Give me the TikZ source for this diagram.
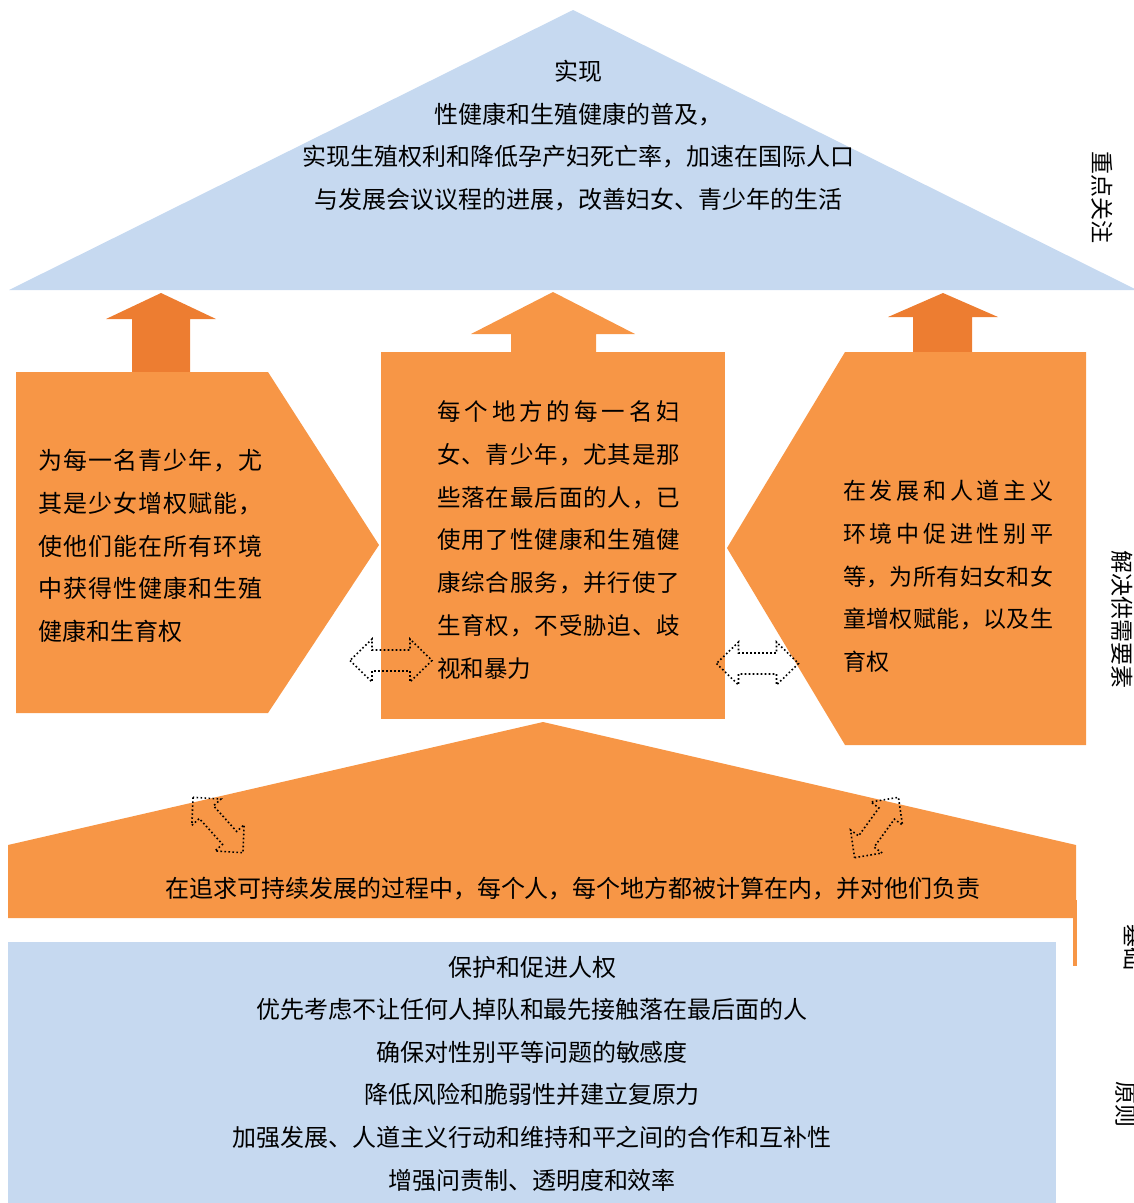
\documentclass[tikz,border=0pt]{standalone}
\usepackage{fontspec}
\setmainfont{Noto Sans CJK SC}
\definecolor{lblue}{HTML}{C6D9F0}
\definecolor{orgA}{HTML}{F79646}
\definecolor{orgB}{HTML}{ED7D31}
\def\spx#1{#1\spxnext}
\def\spxnext#1{\ifx#1\relax\else\hfil#1\expandafter\spxnext\fi}
\newcommand\jline[2]{\hbox to #1{\spx#2\relax}}
\tikzset{
  lb/.style={fill=lblue},
  oa/.style={fill=orgA},
  ob/.style={fill=orgB},
  txt/.style={inner sep=0pt, text=black, font=\fontsize{24}{42.6}\selectfont},
  vlab/.style={inner sep=0pt, rotate=-90, text=black, font=\fontsize{23}{24}\selectfont},
  dotarrow/.style={draw=black, line width=1.6pt, dash pattern=on 1.6pt off 2.4pt},
  dbl/.pic={\draw[dotarrow] (-41,0) -- (-19,21.5) -- (-19,10.5) -- (19,10.5) -- (19,21.5) -- (41,0)
     -- (19,-21.5) -- (19,-10.5) -- (-19,-10.5) -- (-19,-21.5) -- cycle;}
}
\begin{document}
\begin{tikzpicture}[x=1pt,y=-1pt]
\useasboundingbox (0,0) rectangle (1134,1203);
\clip (0,0) rectangle (1134,1203);
% top roof
\fill[lb] (9,290) -- (573,10) -- (1137,290) -- cycle;
% up arrows
\fill[ob] (161,293) -- (216,319) -- (190,319) -- (190,380) -- (132,380) -- (132,319) -- (106,319) -- cycle;
\fill[ob] (943,293) -- (998,317) -- (972,317) -- (972,360) -- (913,360) -- (913,317) -- (888,317) -- cycle;
\fill[oa] (553,292) -- (635,334) -- (596,334) -- (596,360) -- (511,360) -- (511,334) -- (471,334) -- cycle;
% pillars
\fill[oa] (16,372) -- (268,372) -- (379,545) -- (268,713) -- (16,713) -- cycle;
\fill[oa] (381,352) rectangle (725,719);
\fill[oa] (845,352) -- (1086,352) -- (1086,745) -- (845,745) -- (727,548) -- cycle;
% base
\fill[oa] (543,722) -- (1076,845) -- (1076,918) -- (8,918) -- (8,845) -- cycle;
\fill[oa] (1073,900) rectangle (1077,966);
% principles
\fill[lb] (8,942) rectangle (1056,1203);
% texts
\node[txt, align=center] (roof) at (578,135.5) {实现\\性健康和生殖健康的普及，\\实现生殖权利和降低孕产妇死亡率，加速在国际人口\\与发展会议议程的进展，改善妇女、青少年的生活};
\node[txt, anchor=west, align=left] (lefttxt) at (38,546) {\jline{224pt}{为每一名青少年，尤}\\\jline{224pt}{其是少女增权赋能，}\\\jline{224pt}{使他们能在所有环境}\\\jline{224pt}{中获得性健康和生殖}\\健康和生育权};
\node[txt, anchor=west, align=left, font=\fontsize{23.5}{42.7}\selectfont] (midtxt) at (437,540) {\jline{243pt}{每个地方的每一名妇}\\\jline{243pt}{女、青少年，尤其是那}\\\jline{243pt}{些落在最后面的人，已}\\\jline{243pt}{使用了性健康和生殖健}\\\jline{243pt}{康综合服务，并行使了}\\\jline{243pt}{生育权，不受胁迫、歧}\\视和暴力};
\node[txt, anchor=west, align=left, font=\fontsize{23}{42.75}\selectfont] (righttxt) at (843,576.5) {\jline{210pt}{在发展和人道主义}\\\jline{210pt}{环境中促进性别平}\\\jline{210pt}{等，为所有妇女和女}\\\jline{210pt}{童增权赋能，以及生}\\育权};
\node[txt] (basetxt) at (573,889) {在追求可持续发展的过程中，每个人，每个地方都被计算在内，并对他们负责};
\node[txt, align=center] (princ) at (532,1073.5) {保护和促进人权\\优先考虑不让任何人掉队和最先接触落在最后面的人\\确保对性别平等问题的敏感度\\降低风险和脆弱性并建立复原力\\加强发展、人道主义行动和维持和平之间的合作和互补性\\增强问责制、透明度和效率};
% side labels
\node[vlab] (l1) at (1102,197) {重点关注};
\node[vlab] (l2) at (1122,619) {解决供需要素};
\node[vlab] (l3) at (1134,947) {基础};
\node[vlab] (l4) at (1126,1104) {原则};
% dotted double arrows
\pic at (391,660.5) {dbl};
\pic at (757.5,663.5) {dbl};
\pic[rotate=-48, scale=0.91] at (218,825) {dbl};
\pic[rotate=54, scale=0.91] at (876.5,827.5) {dbl};
\end{tikzpicture}
\end{document}
